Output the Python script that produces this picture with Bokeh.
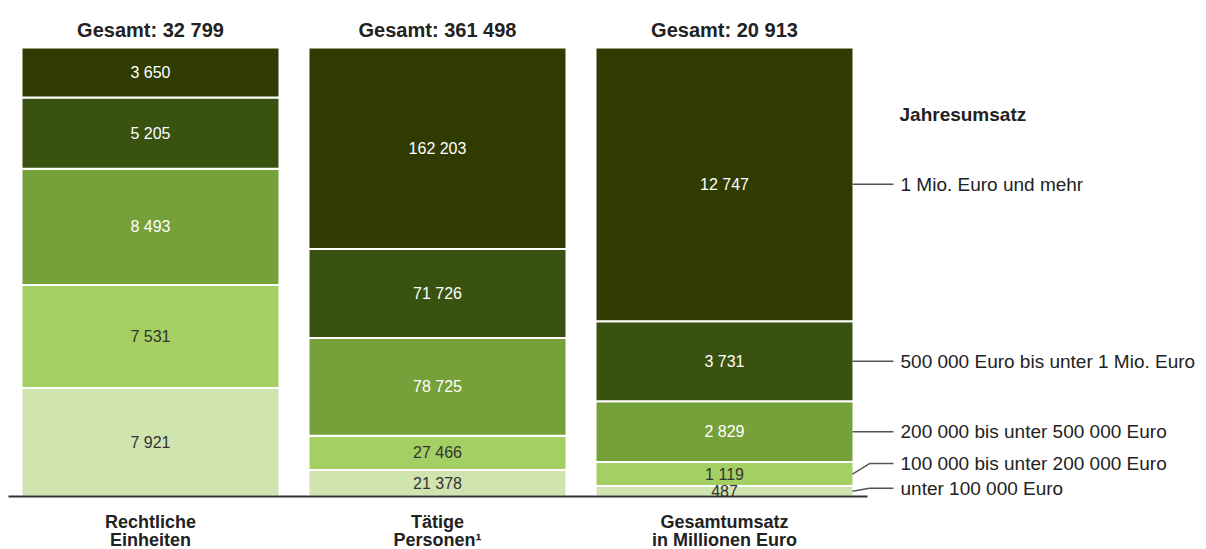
import numpy as np
from bokeh.plotting import figure
from bokeh.models import Range1d, ColumnDataSource
from bokeh.core.properties import value
from bokeh.embed import file_html
from bokeh.resources import INLINE

# ---------------- data ----------------
classes = ["unter 100 000 Euro",
           "100 000 bis unter 200 000 Euro",
           "200 000 bis unter 500 000 Euro",
           "500 000 Euro bis unter 1 Mio. Euro",
           "1 Mio. Euro und mehr"]
einheiten = [7921, 7531, 8493, 5205, 3650]
personen = [21378, 27466, 78725, 71726, 162203]
umsatz = [487, 1119, 2829, 3731, 12747]
totals = [32799, 361498, 20913]
cat_line1 = ["Rechtliche", "Tätige", "Gesamtumsatz"]
cat_line2 = ["Einheiten", "Personen¹", "in Millionen Euro"]
legend_title = "Jahresumsatz"

colors = ["#d0e4b0", "#a4cf62", "#76a03a", "#3a5210", "#2f3b00"]
text_colors = ["#333333", "#333333", "#ffffff", "#ffffff", "#ffffff"]

FONT = "Liberation Sans"

def fmt(v):
    return f"{v:,}".replace(",", " ")

# ---------------- layout ----------------
W, H = 1206, 549
PX = 449.0                     # pixels per 100 %
Y0 = 496.0                     # pixel row of 0 %
centers = [150, 437, 724]
bar_w = 258

p = figure(width=W, height=H, output_backend="svg", toolbar_location=None,
           x_range=Range1d(0, W),
           y_range=Range1d(-(H - Y0) / PX, 1 + (Y0 - PX) / PX),
           x_axis_location=None, y_axis_location=None, min_border=0)
p.grid.visible = False
p.outline_line_color = None
p.background_fill_color = "white"
p.border_fill_color = "white"

series = [einheiten, personen, umsatz]
xs, bottoms, tops, fills, labels, lcols, mids = [], [], [], [], [], [], []
for i, vals in enumerate(series):
    arr = np.array(vals, dtype=float)
    frac = arr / arr.sum()
    cum = np.concatenate([[0], np.cumsum(frac)])
    for k in range(len(arr)):
        xs.append(centers[i])
        bottoms.append(cum[k])
        tops.append(cum[k + 1])
        fills.append(colors[k])
        labels.append(fmt(vals[k]))
        lcols.append(text_colors[k])
        mids.append((cum[k] + cum[k + 1]) / 2)

src = ColumnDataSource(dict(x=xs, bottom=bottoms, top=tops, fill=fills,
                            label=labels, lcol=lcols, mid=mids))
p.vbar(x="x", width=bar_w, bottom="bottom", top="top", fill_color="fill",
       line_color="white", line_width=2, source=src)
p.text(x="x", y="mid", text="label", text_color="lcol", text_align="center",
       text_baseline="middle", text_font=value(FONT), text_font_size="16px",
       source=src)

# totals above the bars
p.text(x=centers, y=[1 + 18 / PX] * 3, text=["Gesamt: " + fmt(t) for t in totals],
       text_align="center", text_baseline="alphabetic", text_font=value(FONT),
       text_font_size="20px", text_font_style="bold", text_color="#222222")

# category labels below
p.text(x=centers, y=[-25 / PX] * 3, text=cat_line1, text_align="center",
       text_baseline="alphabetic", text_font=value(FONT), text_font_size="18px",
       text_font_style="bold", text_color="#222222")
p.text(x=centers, y=[-43 / PX] * 3, text=cat_line2, text_align="center",
       text_baseline="alphabetic", text_font=value(FONT), text_font_size="18px",
       text_font_style="bold", text_color="#222222")

# legend with leader lines (attached to the third bar)
arr = np.array(umsatz, dtype=float)
cum = np.concatenate([[0], np.cumsum(arr / arr.sum())])
anchors = (cum[:-1] + cum[1:]) / 2
shift_px = [3, 10.5, 0, 0, 0]
label_y = [a + s / PX for a, s in zip(anchors, shift_px)]
edge = centers[2] + bar_w / 2 - 1
lx, ly = [], []
for a, yl in zip(anchors, label_y):
    lx.append([edge, edge + 17, edge + 41])
    ly.append([a, yl, yl])
p.multi_line(xs=lx, ys=ly, line_color="#555555", line_width=1.5)
p.text(x=[900] * 5, y=label_y, text=classes, text_align="left",
       text_baseline="middle", text_font=value(FONT), text_font_size="19px",
       text_color="#222222")
p.text(x=[899], y=[(Y0 - 114) / PX], text=[legend_title], text_align="left",
       text_baseline="alphabetic", text_font=value(FONT), text_font_size="19px",
       text_font_style="bold", text_color="#222222")

# baseline
p.line(x=[8, 867], y=[0, 0], line_color="#333333", line_width=2)

open("out.html", "w").write(file_html(p, INLINE))
